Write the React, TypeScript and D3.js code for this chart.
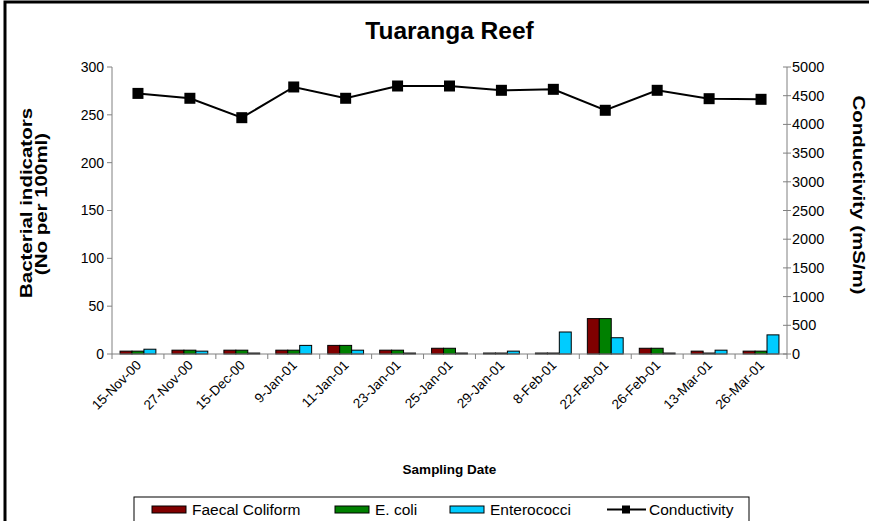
import * as d3 from "d3";

const dates = [
  "15-Nov-00", "27-Nov-00", "15-Dec-00", "9-Jan-01", "11-Jan-01", "23-Jan-01", "25-Jan-01",
  "29-Jan-01", "8-Feb-01", "22-Feb-01", "26-Feb-01", "13-Mar-01", "26-Mar-01",
];
const faecalColiform = [3, 4, 4, 4, 9, 4, 6, 1, 1, 37, 6, 3, 3];
const eColi = [3, 4, 4, 4, 9, 4, 6, 1, 1, 37, 6, 1, 3];
const enterococci = [5, 3, 1, 9, 4, 1, 1, 3, 23, 17, 1, 4, 20];
const conductivity = [4540, 4455, 4117, 4652, 4455, 4669, 4669, 4594, 4611, 4246, 4594, 4448, 4437];

const leftTicks = [0, 50, 100, 150, 200, 250, 300];
const rightTicks = [0, 500, 1000, 1500, 2000, 2500, 3000, 3500, 4000, 4500, 5000];

const barSeries = [
  { name: "Faecal Coliform", values: faecalColiform, color: "#800000" },
  { name: "E. coli", values: eColi, color: "#008000" },
  { name: "Enterococci", values: enterococci, color: "#00CCFF" },
];

const font = "'Liberation Sans', Arial, sans-serif";

export default function App() {
  const width = 869;
  const height = 521;
  const plot = { left: 112, right: 787, top: 67, bottom: 354 };

  const x = d3.scaleBand().domain(dates).range([plot.left, plot.right]);
  const yL = d3.scaleLinear().domain([0, 300]).range([plot.bottom, plot.top]);
  const yR = d3.scaleLinear().domain([0, 5000]).range([plot.bottom, plot.top]);
  const barW = x.bandwidth() * 0.23;

  const line = d3
    .line<number>()
    .x((_, i) => x(dates[i])! + x.bandwidth() / 2)
    .y((d) => yR(d));

  const midX = (plot.left + plot.right) / 2;

  return (
    <svg
      width={width}
      height={height}
      style={{ position: "absolute", left: 0, top: 0, background: "#fff", fontFamily: font }}
    >
      <rect x={5} y={2} width={900} height={600} fill="#fff" stroke="#000" strokeWidth={3} />

      <text x={midX} y={39} textAnchor="middle" fontSize={24.5} fontWeight="bold">
        Tuaranga Reef
      </text>

      {/* bars */}
      {dates.map((d, i) => {
        const c = x(d)! + x.bandwidth() / 2;
        return barSeries.map((s, j) => (
          <rect
            key={d + s.name}
            x={c - barW * 1.5 + j * barW}
            y={yL(s.values[i])}
            width={barW}
            height={plot.bottom - yL(s.values[i])}
            fill={s.color}
            stroke="#000"
            strokeWidth={1}
          />
        ));
      })}

      {/* left axis */}
      <line x1={plot.left} x2={plot.left} y1={plot.top} y2={plot.bottom} stroke="#808080" />
      {leftTicks.map((t) => (
        <g key={t} transform={`translate(${plot.left},${yL(t)})`}>
          <line x1={-5} x2={0} stroke="#808080" />
          <text x={-8} dy="0.35em" textAnchor="end" fontSize={14}>
            {t}
          </text>
        </g>
      ))}

      {/* right axis */}
      <line x1={plot.right} x2={plot.right} y1={plot.top} y2={plot.bottom} stroke="#808080" />
      {rightTicks.map((t) => (
        <g key={t} transform={`translate(${plot.right},${yR(t)})`}>
          <line x1={-4} x2={4} stroke="#808080" />
          <text x={5} dy="0.35em" textAnchor="start" fontSize={14.5}>
            {t}
          </text>
        </g>
      ))}

      {/* x axis */}
      <line x1={plot.left} x2={plot.right} y1={plot.bottom} y2={plot.bottom} stroke="#808080" />
      {dates.map((d) => (
        <line key={d} x1={x(d)} x2={x(d)} y1={plot.bottom} y2={plot.bottom + 5} stroke="#808080" />
      ))}
      <line x1={plot.right} x2={plot.right} y1={plot.bottom} y2={plot.bottom + 5} stroke="#808080" />
      {dates.map((d) => (
        <text
          key={d}
          transform={`translate(${x(d)! + x.bandwidth() / 2 + 4},${plot.bottom + 12}) rotate(-45)`}
          textAnchor="end"
          fontSize={13.5}
        >
          {d}
        </text>
      ))}

      {/* conductivity line */}
      <path d={line(conductivity) ?? ""} fill="none" stroke="#000" strokeWidth={2} />
      {conductivity.map((v, i) => (
        <rect
          key={i}
          x={x(dates[i])! + x.bandwidth() / 2 - 5.5}
          y={yR(v) - 5.5}
          width={11}
          height={11}
          fill="#000"
        />
      ))}

      {/* axis titles */}
      <text x={midX} y={474} textAnchor="middle" fontSize={13.5} fontWeight="bold">
        Sampling Date
      </text>
      <text transform="translate(32,203) rotate(-90) scale(1,0.8)" textAnchor="middle" fontSize={20.5} fontWeight="bold">
        Bacterial indicators
      </text>
      <text transform="translate(47,204) rotate(-90) scale(1,0.8)" textAnchor="middle" fontSize={20.5} fontWeight="bold">
        (No per 100ml)
      </text>
      <text transform="translate(853,195) rotate(90) scale(1,0.8)" textAnchor="middle" fontSize={20.5} fontWeight="bold">
        Conductivity (mS/m)
      </text>

      {/* legend */}
      <rect x={134} y={497} width={615} height={40} fill="#fff" stroke="#000" />
      {[
        { ...barSeries[0], x: 152 },
        { ...barSeries[1], x: 335 },
        { ...barSeries[2], x: 450 },
      ].map((s) => (
        <g key={s.name}>
          <rect x={s.x} y={506} width={34} height={7} fill={s.color} stroke="#000" />
          <text x={s.x + 40} y={515} fontSize={15.5}>
            {s.name}
          </text>
        </g>
      ))}
      <line x1={607} x2={646} y1={509.5} y2={509.5} stroke="#000" strokeWidth={2} />
      <rect x={622} y={505.5} width={8} height={8} fill="#000" />
      <text x={649} y={515} fontSize={15.5}>
        Conductivity
      </text>
    </svg>
  );
}
